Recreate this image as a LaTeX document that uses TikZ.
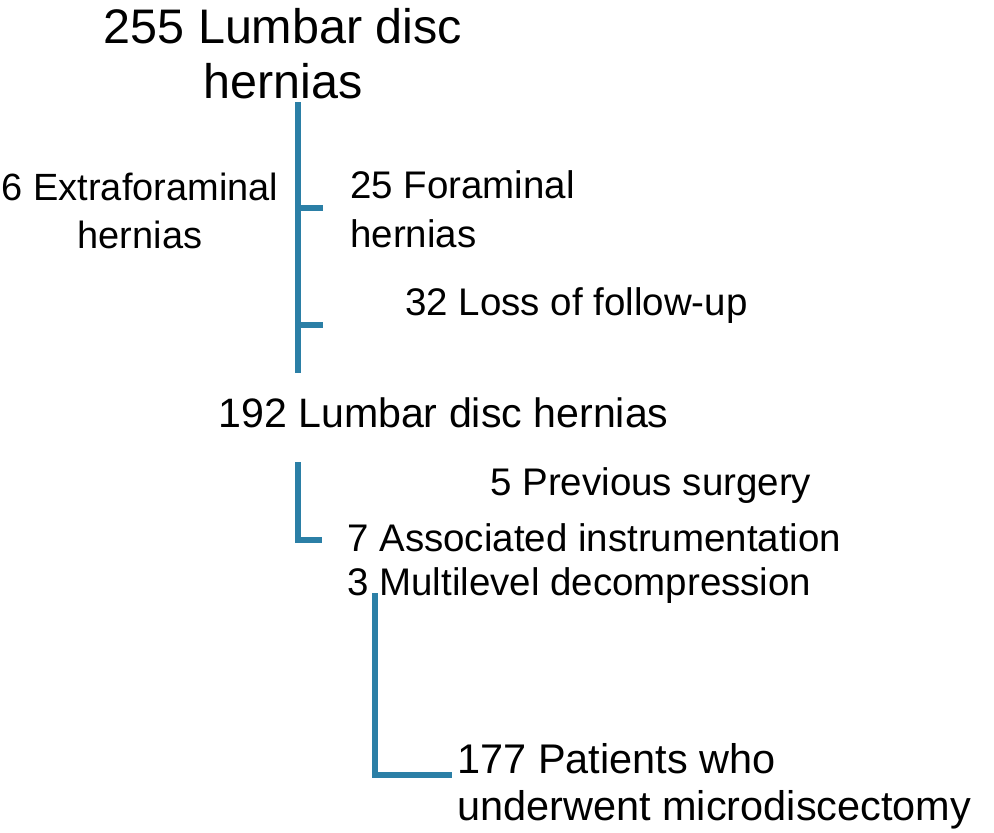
\documentclass[tikz,border=0pt]{standalone}
\usepackage{fontspec}
\setmainfont{Liberation Sans}
\usetikzlibrary{positioning}
\definecolor{bracket}{HTML}{2B7FA6}

\begin{document}
\begin{tikzpicture}[x=0.02cm, y=-0.02cm,
  lbl/.style={inner sep=0pt, anchor=base west, font=\fontsize{#1}{#1}\selectfont},
  lbl/.default=21.9pt,
  brk/.style={line width=3pt, bracket}
]
  \useasboundingbox (0,0) rectangle (994,832);

  % labels (base anchor = last line)
  \node[inner sep=0pt, anchor=base, align=center, font=\fontsize{27.6pt}{31.2pt}\selectfont] (total) at (283,98) {255 Lumbar disc\\hernias};
  \node[inner sep=0pt, anchor=base, align=center, font=\fontsize{21.6pt}{26.8pt}\selectfont] (extra) at (140,248) {6 Extraforaminal\\hernias};
  \node[inner sep=0pt, anchor=base west, align=left, font=\fontsize{21.9pt}{27.8pt}\selectfont] (foram) at (350,247) {25 Foraminal\\hernias};
  \node[lbl] (loss) at (405,315) {32 Loss of follow-up};
  \node[lbl=23.4pt] (mid) at (218,427) {192 Lumbar disc hernias};
  \node[lbl] (prev) at (490,495) {5 Previous surgery};
  \node[inner sep=0pt, anchor=base west, align=left, font=\fontsize{21.9pt}{24.5pt}\selectfont] (instr) at (347,595) {7 Associated instrumentation\\3 Multilevel decompression};
  \node[inner sep=0pt, anchor=base west, align=left, font=\fontsize{23.6pt}{26.7pt}\selectfont] (final) at (457,820) {177 Patients who\\underwent microdiscectomy};

  % bracket points
  \coordinate (a1) at (298,102);
  \coordinate (a2) at (298,373);
  \coordinate (t1) at (298,208);
  \coordinate (t1e) at (323,208);
  \coordinate (t2) at (298,325);
  \coordinate (t2e) at (323,325);
  \coordinate (b1) at (298,462);
  \coordinate (b2) at (298,540);
  \coordinate (b3) at (322,540);
  \coordinate (c1) at (375,593);
  \coordinate (c2) at (375,775);
  \coordinate (c3) at (452,775);

  \draw[brk] (a1) -- (a2);
  \draw[brk] (t1) -- (t1e);
  \draw[brk] (t2) -- (t2e);
  \draw[brk] (b1) -- (b2) -- (b3);
  \draw[brk] (c1) -- (c2) -- (c3);
\end{tikzpicture}
\end{document}
